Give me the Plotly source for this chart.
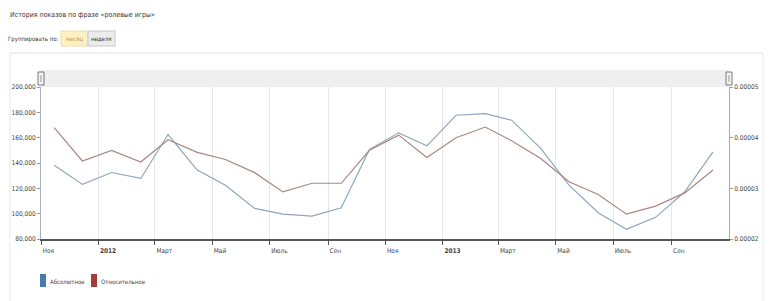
import plotly.graph_objects as go

# ---- data ----
months = ["2011-11-15", "2011-12-15", "2012-01-15", "2012-02-15", "2012-03-15", "2012-04-15",
          "2012-05-15", "2012-06-15", "2012-07-15", "2012-08-15", "2012-09-15", "2012-10-15",
          "2012-11-15", "2012-12-15", "2013-01-15", "2013-02-15", "2013-03-15", "2013-04-15",
          "2013-05-15", "2013-06-15", "2013-07-15", "2013-08-15", "2013-09-15", "2013-10-15"]
absolute = [138300, 123100, 132500, 127800, 162500, 134400, 122500, 104200, 99700, 98100, 104600, 150700,
            163800, 153500, 177700, 179000, 173800, 151500, 122500, 100700, 87600, 97100, 117300, 148800]
relative = [4.20e-5, 3.54e-5, 3.75e-5, 3.52e-5, 3.96e-5, 3.71e-5, 3.57e-5, 3.31e-5, 2.93e-5, 3.10e-5, 3.10e-5, 3.75e-5,
            4.05e-5, 3.61e-5, 4.00e-5, 4.21e-5, 3.94e-5, 3.59e-5, 3.13e-5, 2.88e-5, 2.49e-5, 2.65e-5, 2.91e-5, 3.36e-5]
tick_dates = ["2011-11-01", "2012-01-01", "2012-03-01", "2012-05-01", "2012-07-01", "2012-09-01",
              "2012-11-01", "2013-01-01", "2013-03-01", "2013-05-01", "2013-07-01", "2013-09-01"]
tick_text = ["Ноя", "<b>2012</b>", "Март", "Май", "Июль", "Сен",
             "Ноя", "<b>2013</b>", "Март", "Май", "Июль", "Сен"]
left_ticks = [80000, 100000, 120000, 140000, 160000, 180000, 200000]
right_ticks = [2e-5, 3e-5, 4e-5, 5e-5]
series_names = ["Абсолютное", "Относительное"]
title_text = "История показов по фразе «ролевые игры»"

FONT = "Liberation Sans Narrow, DejaVu Sans Condensed, Arial Narrow, Liberation Sans, sans-serif"
W, H = 772, 301
L, R, T, B = 41, 43, 87, 62
PW, PH = W - L - R, H - T - B


def px(x):
    return (x - L) / PW


def py(y):
    return (H - B - y) / PH


fig = go.Figure()
fig.add_trace(go.Scatter(x=months, y=absolute, mode="lines", name=series_names[0],
                         line=dict(color="#8ea5be", width=1.2), showlegend=False, yaxis="y"))
fig.add_trace(go.Scatter(x=months, y=relative, mode="lines", name=series_names[1],
                         line=dict(color="#aa8682", width=1.2), showlegend=False, yaxis="y2"))

shapes = []
# panel border
shapes.append(dict(type="line", xref="paper", yref="paper", x0=px(10), x1=px(763), y0=py(53), y1=py(53),
                   line=dict(color="#e2e2e2", width=1)))
shapes.append(dict(type="line", xref="paper", yref="paper", x0=px(10), x1=px(10), y0=py(53), y1=py(301),
                   line=dict(color="#e8e8e8", width=1)))
shapes.append(dict(type="line", xref="paper", yref="paper", x0=px(763), x1=px(763), y0=py(53), y1=py(301),
                   line=dict(color="#e8e8e8", width=1)))
# gray band above plot
shapes.append(dict(type="rect", xref="paper", yref="paper", x0=0, x1=1, y0=1, y1=py(70),
                   fillcolor="#efefef", line=dict(width=0), layer="below"))
# handles
for hx in (41, 729):
    shapes.append(dict(type="rect", xref="paper", yref="paper", x0=px(hx - 3), x1=px(hx + 3),
                       y0=py(85), y1=py(72), fillcolor="#f4f4f4", line=dict(color="#777", width=1)))
    shapes.append(dict(type="line", xref="paper", yref="paper", x0=px(hx), x1=px(hx),
                       y0=py(82), y1=py(75), line=dict(color="#999", width=1)))
# buttons
B1, B2, B3 = 61, 88, 115
shapes.append(dict(type="rect", xref="paper", yref="paper", x0=px(B1), x1=px(B2), y0=py(46), y1=py(31),
                   fillcolor="#fbf1c4", line=dict(color="#eadfa8", width=1)))
shapes.append(dict(type="rect", xref="paper", yref="paper", x0=px(B2), x1=px(B3), y0=py(46), y1=py(31),
                   fillcolor="#ececec", line=dict(color="#c8c8c8", width=1)))
# legend swatches
shapes.append(dict(type="rect", xref="paper", yref="paper", x0=px(40), x1=px(46), y0=py(287), y1=py(274),
                   fillcolor="#4a79b6", line=dict(width=0)))
shapes.append(dict(type="rect", xref="paper", yref="paper", x0=px(91), x1=px(97), y0=py(287), y1=py(274),
                   fillcolor="#a83a3a", line=dict(width=0)))

annotations = [
    dict(text=title_text, xref="paper", yref="paper", x=px(8), y=py(15), xanchor="left", yanchor="middle",
         showarrow=False, font=dict(size=7, color="#333", family=FONT)),
    dict(text="Группировать по:", xref="paper", yref="paper", x=px(6), y=py(39), xanchor="left",
         yanchor="middle", showarrow=False, font=dict(size=6, color="#333", family=FONT)),
    dict(text="месяц", xref="paper", yref="paper", x=px((B1 + B2) / 2), y=py(39), xanchor="center",
         yanchor="middle", showarrow=False, font=dict(size=6, color="#b59a55", family=FONT)),
    dict(text="неделя", xref="paper", yref="paper", x=px((B2 + B3) / 2), y=py(39), xanchor="center",
         yanchor="middle", showarrow=False, font=dict(size=6, color="#333", family=FONT)),
    dict(text=series_names[0], xref="paper", yref="paper", x=px(48), y=py(281), xanchor="left",
         yanchor="middle", showarrow=False, font=dict(size=6, color="#444", family=FONT)),
    dict(text=series_names[1], xref="paper", yref="paper", x=px(99), y=py(281), xanchor="left",
         yanchor="middle", showarrow=False, font=dict(size=6, color="#444", family=FONT)),
]

fig.update_layout(
    width=W, height=H, autosize=False,
    margin=dict(l=L, r=R, t=T, b=B, pad=0),
    paper_bgcolor="white", plot_bgcolor="white",
    font=dict(family=FONT, size=6.5, color="#444"),
    showlegend=False,
    shapes=shapes, annotations=annotations,
    xaxis=dict(type="date", range=["2011-11-01", "2013-11-01"], tickmode="array",
               tickvals=tick_dates, ticktext=tick_text, ticks="outside", ticklen=4, tickcolor="#555",
               showline=True, linecolor="#555", linewidth=2, showgrid=True, gridcolor="#e6e6e6",
               gridwidth=1, zeroline=False, ticklabelposition="outside right", ticklabelstandoff=4,
               tickfont=dict(size=6.5, color="#444", family=FONT)),
    yaxis=dict(range=[80000, 200000], tickmode="array", tickvals=left_ticks, tickformat=",",
               ticks="outside", ticklen=3, tickcolor="#999", showline=True, linecolor="#a9b2bc",
               linewidth=1, showgrid=False, zeroline=False,
               tickfont=dict(size=6.5, color="#444", family=FONT)),
    yaxis2=dict(range=[2e-5, 5e-5], overlaying="y", side="right", tickmode="array", tickvals=right_ticks,
                tickformat=".5f", ticks="outside", ticklen=3, tickcolor="#999", showline=True,
                linecolor="#aaaaaa", linewidth=1, showgrid=False, zeroline=False,
                tickfont=dict(size=6.5, color="#444", family=FONT)),
)

fig.write_html("out.html")
